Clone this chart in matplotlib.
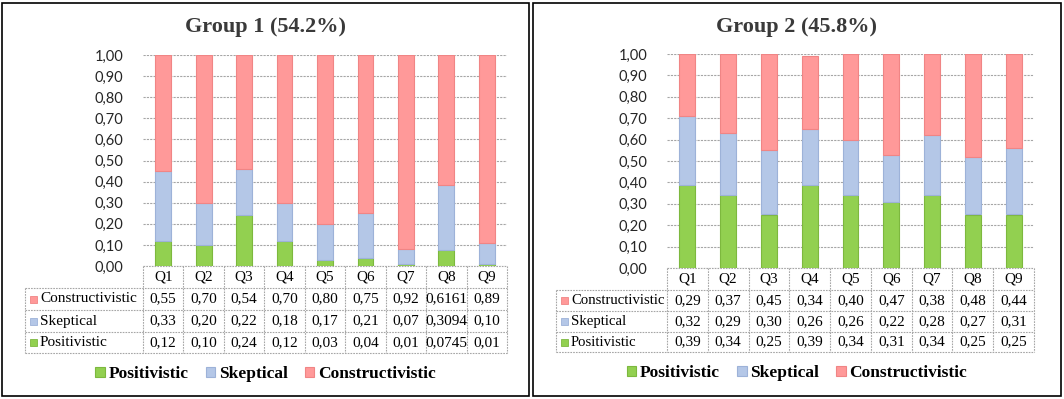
import matplotlib
matplotlib.use("Agg")
import matplotlib.pyplot as plt
import matplotlib.transforms as mtransforms
from matplotlib.patches import Rectangle

W, H = 1064, 399

# -------- Data --------
questions = ["Q1", "Q2", "Q3", "Q4", "Q5", "Q6", "Q7", "Q8", "Q9"]

g1_title = "Group 1 (54.2%)"
g1_positivistic = [0.12, 0.10, 0.24, 0.12, 0.03, 0.04, 0.01, 0.0745, 0.01]
g1_skeptical = [0.33, 0.20, 0.22, 0.18, 0.17, 0.21, 0.07, 0.3094, 0.10]
g1_constructivistic = [0.55, 0.70, 0.54, 0.70, 0.80, 0.75, 0.92, 0.6161, 0.89]

g2_title = "Group 2 (45.8%)"
g2_positivistic = [0.39, 0.34, 0.25, 0.39, 0.34, 0.31, 0.34, 0.25, 0.25]
g2_skeptical = [0.32, 0.29, 0.30, 0.26, 0.26, 0.22, 0.28, 0.27, 0.31]
g2_constructivistic = [0.29, 0.37, 0.45, 0.34, 0.40, 0.47, 0.38, 0.48, 0.44]

# -------- Style --------
GREEN, GREEN_EDGE = "#92d050", "#7db83e"
BLUE, BLUE_EDGE = "#b4c7e7", "#9db2d8"
PINK, PINK_EDGE = "#ff9999", "#f08585"
GRID = "#a6a6a6"
SERIF = "Liberation Serif"
SANS = "Lato"

# panel layout in pixels (left, top, right, bottom)
PANELS = [
    dict(box=(2, 3, 529, 396), plot=(143, 55, 507, 266), label_left=25,
         rows=[266, 288, 310, 332, 353], title_y=27, legend_y=374, lab_size=11),
    dict(box=(533, 3, 1061, 396), plot=(667, 54, 1034, 268), label_left=556,
         rows=[268, 290, 311, 332, 352], title_y=27, legend_y=373, lab_size=10.6),
]


def fmt(v):
    s = f"{v:.2f}" if abs(round(v, 2) - v) < 1e-9 else f"{v:.4f}"
    return s.replace(".", ",")


fig = plt.figure(figsize=(W / 100, H / 100), dpi=100)
fig.patch.set_facecolor("white")
pix = mtransforms.Affine2D().scale(1 / W, -1 / H).translate(0, 1) + fig.transFigure


def draw_panel(cfg, title, pos, skep, cons):
    bx0, by0, bx1, by1 = cfg["box"]
    fig.patches.append(Rectangle((bx0, by1), bx1 - bx0, by0 - by1, transform=pix,
                                 fill=False, edgecolor="black", linewidth=1.2))
    x0, y0, x1, y1 = cfg["plot"]
    ax = fig.add_axes([x0 / W, 1 - y1 / H, (x1 - x0) / W, (y1 - y0) / H])
    n = len(questions)
    xs = list(range(n))
    bottom2 = [a + b for a, b in zip(pos, skep)]
    kw = dict(width=0.39, linewidth=0.8, zorder=3)
    b_pos = ax.bar(xs, pos, color=GREEN, edgecolor=GREEN_EDGE, label="Positivistic", **kw)
    b_skep = ax.bar(xs, skep, bottom=pos, color=BLUE, edgecolor=BLUE_EDGE, label="Skeptical", **kw)
    b_cons = ax.bar(xs, cons, bottom=bottom2, color=PINK, edgecolor=PINK_EDGE,
                    label="Constructivistic", **kw)
    ax.set_xlim(-0.5, n - 0.5)
    ax.set_ylim(0, 1.0)
    yt = [i / 10 for i in range(11)]
    ax.set_yticks(yt)
    ax.set_yticklabels([fmt(v) for v in yt], fontfamily=SANS, fontsize=10.5, color="#262626")
    ax.tick_params(axis="y", length=0, pad=14)
    ax.set_xticks([])
    for s in ax.spines.values():
        s.set_visible(False)
    ax.grid(axis="y", color=GRID, linestyle=(0, (2, 1)), linewidth=0.8, zorder=0)
    ax.set_axisbelow(True)

    # data table under the plot
    tr = mtransforms.blended_transform_factory(ax.transData, pix)
    rows = cfg["rows"]
    lw = dict(color=GRID, linewidth=0.8, linestyle=(0, (1.5, 1)), clip_on=False)
    left = -0.5 - (x0 - cfg["label_left"]) / ((x1 - x0) / n)
    ax.plot([-0.5, n - 0.5], [rows[0], rows[0]], transform=tr, **lw)
    for r in rows[1:]:
        ax.plot([left, n - 0.5], [r, r], transform=tr, **lw)
    for i in range(n + 1):
        ax.plot([i - 0.5, i - 0.5], [rows[0], rows[-1]], transform=tr, **lw)
    ax.plot([left, left], [rows[1], rows[-1]], transform=tr, **lw)
    for i, q in enumerate(questions):
        ax.text(i, (rows[0] + rows[1]) / 2, q, transform=tr, ha="center", va="center",
                fontfamily=SERIF, fontsize=11, color="black")
    table_rows = [("Constructivistic", cons, PINK, PINK_EDGE),
                  ("Skeptical", skep, BLUE, BLUE_EDGE),
                  ("Positivistic", pos, GREEN, GREEN_EDGE)]
    lab_x = cfg["label_left"]
    for k, (name, vals, c, ec) in enumerate(table_rows):
        yc = (rows[k + 1] + rows[k + 2]) / 2
        fig.patches.append(Rectangle((lab_x + 5, yc - 3.5), 7, 7, transform=pix,
                                     facecolor=c, edgecolor=ec, linewidth=0.6))
        fig.text(lab_x + 15, yc, name, transform=pix, ha="left", va="center",
                 fontfamily=SERIF, fontsize=cfg["lab_size"], color="black")
        for i, v in enumerate(vals):
            ax.text(i, yc, fmt(v), transform=tr, ha="center", va="center",
                    fontfamily=SERIF, fontsize=11, color="black")

    cx = (bx0 + bx1) / 2
    fig.text(cx, cfg["title_y"], title, transform=pix, ha="center", va="center",
             fontfamily=SERIF, fontweight="bold", fontsize=16, color="#3a3a3a")
    fig.legend(handles=[b_pos, b_skep, b_cons], loc="center",
               bbox_to_anchor=(cx, cfg["legend_y"]), bbox_transform=pix,
               ncol=3, frameon=False, handlelength=0.55, handleheight=0.55,
               handletextpad=0.2, columnspacing=1.0,
               prop=dict(family=SERIF, weight="bold", size=12.5))
    return ax


draw_panel(PANELS[0], g1_title, g1_positivistic, g1_skeptical, g1_constructivistic)
draw_panel(PANELS[1], g2_title, g2_positivistic, g2_skeptical, g2_constructivistic)

fig.savefig("out.png", dpi=100)
